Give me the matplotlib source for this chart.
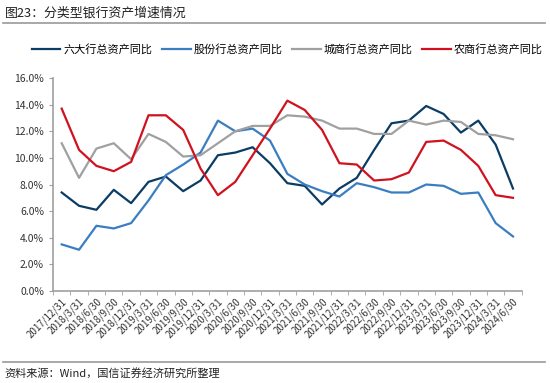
import matplotlib
matplotlib.use("Agg")
from matplotlib import pyplot as plt
from matplotlib.ticker import FuncFormatter, FixedLocator
import numpy as np

plt.rcParams['font.family'] = ['Noto Sans CJK SC', 'DejaVu Sans']

dates = ['2017/12/31', '2018/3/31', '2018/6/30', '2018/9/30', '2018/12/31',
         '2019/3/31', '2019/6/30', '2019/9/30', '2019/12/31', '2020/3/31',
         '2020/6/30', '2020/9/30', '2020/12/31', '2021/3/31', '2021/6/30',
         '2021/9/30', '2021/12/31', '2022/3/31', '2022/6/30', '2022/9/30',
         '2022/12/31', '2023/3/31', '2023/6/30', '2023/9/30', '2023/12/31',
         '2024/3/31', '2024/6/30']

big6 = [7.4, 6.4, 6.1, 7.6, 6.6, 8.2, 8.6, 7.5, 8.3, 10.2, 10.4, 10.8, 9.6,
        8.1, 7.9, 6.5, 7.7, 8.5, 10.6, 12.6, 12.8, 13.9, 13.3, 11.9, 12.8,
        11.0, 7.7]
joint = [3.5, 3.1, 4.9, 4.7, 5.1, 6.8, 8.7, 9.5, 10.4, 12.8, 12.0, 12.2, 11.3,
         8.8, 8.0, 7.5, 7.1, 8.1, 7.8, 7.4, 7.4, 8.0, 7.9, 7.3, 7.4, 5.1, 4.1]
city = [11.1, 8.5, 10.7, 11.1, 9.9, 11.8, 11.2, 10.1, 10.2, 11.1, 12.0, 12.4,
        12.4, 13.2, 13.1, 12.8, 12.2, 12.2, 11.8, 11.8, 12.8, 12.5, 12.8, 12.7,
        11.8, 11.7, 11.4]
rural = [13.7, 10.6, 9.4, 9.0, 9.7, 13.2, 13.2, 12.1, 9.2, 7.2, 8.2, 10.2,
         12.2, 14.3, 13.6, 12.1, 9.6, 9.5, 8.3, 8.4, 8.9, 11.2, 11.3, 10.6,
         9.4, 7.2, 7.0]

labels = ['六大行总资产同比', '股份行总资产同比', '城商行总资产同比', '农商行总资产同比']
colors = ['#0B3C64', '#3A7EC1', '#A0A0A0', '#D0121E']

fig = plt.figure(figsize=(5.5, 3.83), dpi=100)
ax = fig.add_axes([0.0964, 0.2402, 0.8521, 0.5561])

x = np.arange(len(dates))
for y, lab, c in zip([big6, joint, city, rural], labels, colors):
    ax.plot(x, y, color=c, linewidth=1.6, label=lab)

ax.set_xlim(-0.5, len(dates) - 0.5)
ax.set_ylim(0, 16)
ax.set_yticks(np.arange(0, 17, 2))
ax.yaxis.set_major_formatter(FuncFormatter(lambda v, p: '%.1f%%' % v))
ax.set_xticks(x)
ax.set_xticklabels(dates, rotation=45, ha='right', rotation_mode='anchor')
ax.xaxis.set_minor_locator(FixedLocator(np.arange(-0.5, len(dates), 1)))
ax.tick_params(axis='x', which='major', length=0, labelsize=7, colors='#333333', pad=4)
ax.tick_params(axis='x', which='minor', length=3, color='#A0A0A0', direction='out')
ax.tick_params(axis='y', length=3, color='#A0A0A0', labelsize=7.5, colors='#333333')
ax.tick_params(axis='y', color='#A0A0A0')
for s in ['top', 'right']:
    ax.spines[s].set_visible(False)
for s in ['left', 'bottom']:
    ax.spines[s].set_color('#A0A0A0')
    ax.spines[s].set_linewidth(1.2)

ax.legend(loc='lower center', bbox_to_anchor=(0.5, 1.06), ncol=4, frameon=False,
          fontsize=8, handlelength=2.6, handletextpad=0.3, columnspacing=0.8)

fig.text(0.009, 0.965, '图23：分类型银行资产增速情况', fontsize=9.3, color='#222222',
         va='center', ha='left')
fig.add_artist(plt.Line2D([0.006, 0.99], [0.941, 0.941], color='#999999', linewidth=1.2))
fig.add_artist(plt.Line2D([0.006, 0.99], [0.056, 0.056], color='#999999', linewidth=1.2))
fig.text(0.009, 0.026, '资料来源：Wind，国信证券经济研究所整理', fontsize=8, color='#222222',
         va='center', ha='left')

fig.savefig('out.png', dpi=100)
